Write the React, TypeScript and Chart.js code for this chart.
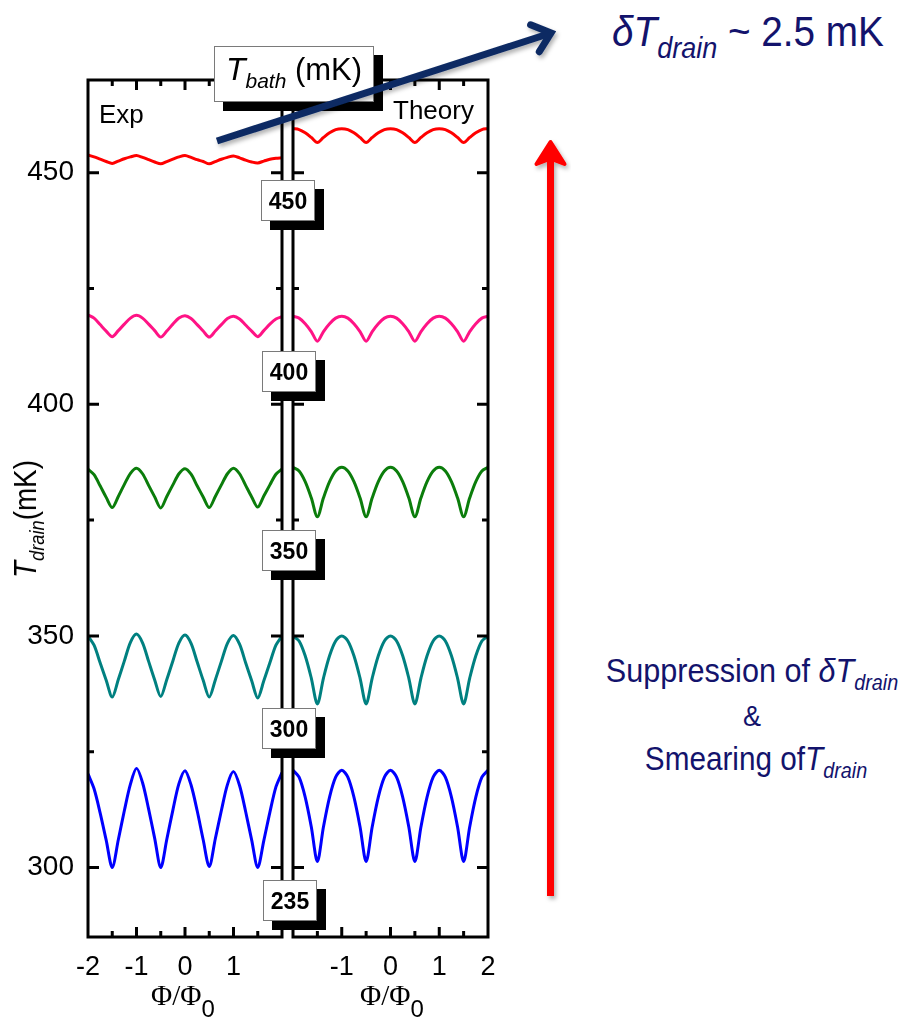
import React, { useEffect, useRef } from 'react';
import { Chart, registerables } from 'chart.js';

Chart.register(...registerables);

const SANS = "'Liberation Sans', Arial, Helvetica, sans-serif";
const SERIF = "'Liberation Serif', 'Times New Roman', Times, serif";
const NAVY_TEXT = '#13136c';
const NAVY_ARROW = '#0c2a63';

// Flux grid Φ/Φ0 shared by every trace
const PHI = [
  -2, -1.875, -1.75, -1.625, -1.5, -1.375, -1.25, -1.125,
  -1, -0.875, -0.75, -0.625, -0.5, -0.375, -0.25, -0.125,
  0, 0.125, 0.25, 0.375, 0.5, 0.625, 0.75, 0.875,
  1, 1.125, 1.25, 1.375, 1.5, 1.625, 1.75, 1.875, 2,
];

// Bath temperatures (mK), lowest first
const BATH_TEMPS = ['235', '300', '350', '400', '450'];
const SERIES_COLORS = ['#0000ff', '#008080', '#0b7d0b', '#ff1385', '#ff0000'];

// Measured drain temperature (mK)
const EXP_235 = [
  320.2, 317.0, 311.8, 305.9, 300.0, 306.0, 312.3, 318.0,
  321.4, 318.3, 312.6, 306.3, 300.0, 306.1, 312.4, 318.1,
  320.9, 317.8, 312.3, 306.0, 300.2, 306.2, 312.3, 317.9,
  320.7, 317.7, 312.1, 305.9, 300.0, 305.8, 311.9, 317.4, 320.5,
];
const EXP_300 = [
  350.0, 348.0, 344.2, 340.4, 336.8, 340.6, 344.6, 348.6,
  350.4, 348.5, 344.5, 340.5, 336.9, 340.6, 344.6, 348.5,
  350.2, 348.4, 344.4, 340.4, 336.8, 340.5, 344.5, 348.4,
  350.1, 348.2, 344.2, 340.3, 336.6, 340.3, 344.2, 348.0, 350.0,
];
const EXP_350 = [
  386.0, 384.8, 382.4, 379.9, 377.7, 380.1, 382.7, 385.1,
  386.2, 385.0, 382.5, 380.0, 377.6, 380.1, 382.6, 385.0,
  386.1, 384.9, 382.4, 380.0, 377.7, 380.1, 382.6, 385.0,
  386.2, 385.0, 382.5, 380.0, 377.8, 380.2, 382.6, 384.9, 386.0,
];
const EXP_400 = [
  419.3, 418.6, 417.2, 415.8, 414.6, 415.9, 417.3, 418.6,
  419.2, 418.6, 417.3, 415.9, 414.5, 415.8, 417.3, 418.6,
  419.1, 418.5, 417.2, 415.8, 414.5, 415.8, 417.2, 418.5,
  419.0, 418.4, 417.1, 415.8, 414.6, 415.9, 417.3, 418.4, 418.9,
];
const EXP_450 = [
  453.8, 453.4, 452.9, 452.4, 452.0, 452.5, 453.0, 453.4,
  453.7, 453.3, 452.8, 452.3, 451.9, 452.4, 452.9, 453.4,
  453.7, 453.3, 452.8, 452.4, 451.9, 452.4, 452.9, 453.3,
  453.6, 453.2, 452.7, 452.3, 452.1, 452.5, 452.9, 453.1, 453.2,
];

// Calculated drain temperature (mK)
const THEORY_235 = [
  321.0, 319.5, 315.2, 308.8, 301.3, 308.8, 315.2, 319.5,
  321.0, 319.5, 315.2, 308.8, 301.3, 308.8, 315.2, 319.5,
  321.0, 319.5, 315.2, 308.8, 301.3, 308.8, 315.2, 319.5,
  321.0, 319.5, 315.2, 308.8, 301.3, 308.8, 315.2, 319.5, 321.0,
];
const THEORY_300 = [
  350.0, 348.9, 345.7, 340.9, 335.3, 340.9, 345.7, 348.9,
  350.0, 348.9, 345.7, 340.9, 335.3, 340.9, 345.7, 348.9,
  350.0, 348.9, 345.7, 340.9, 335.3, 340.9, 345.7, 348.9,
  350.0, 348.9, 345.7, 340.9, 335.3, 340.9, 345.7, 348.9, 350.0,
];
const THEORY_350 = [
  386.4, 385.6, 383.3, 379.8, 375.7, 379.8, 383.3, 385.6,
  386.4, 385.6, 383.3, 379.8, 375.7, 379.8, 383.3, 385.6,
  386.4, 385.6, 383.3, 379.8, 375.7, 379.8, 383.3, 385.6,
  386.4, 385.6, 383.3, 379.8, 375.7, 379.8, 383.3, 385.6, 386.4,
];
const THEORY_400 = [
  419.0, 418.6, 417.4, 415.7, 413.6, 415.7, 417.4, 418.6,
  419.0, 418.6, 417.4, 415.7, 413.6, 415.7, 417.4, 418.6,
  419.0, 418.6, 417.4, 415.7, 413.6, 415.7, 417.4, 418.6,
  419.0, 418.6, 417.4, 415.7, 413.6, 415.7, 417.4, 418.6, 419.0,
];
const THEORY_450 = [
  459.5, 459.3, 458.6, 457.6, 456.5, 457.6, 458.6, 459.3,
  459.5, 459.3, 458.6, 457.6, 456.5, 457.6, 458.6, 459.3,
  459.5, 459.3, 458.6, 457.6, 456.5, 457.6, 458.6, 459.3,
  459.5, 459.3, 458.6, 457.6, 456.5, 457.6, 458.6, 459.3, 459.5,
];

const EXP_SERIES = [EXP_235, EXP_300, EXP_350, EXP_400, EXP_450];
const THEORY_SERIES = [THEORY_235, THEORY_300, THEORY_350, THEORY_400, THEORY_450];

const Y_MIN = 285;
const Y_MAX = 470;
const Y_TICKS = [300, 350, 400, 450];
const X_TICKS_EXP = [-2, -1, 0, 1];
const X_TICKS_THEORY = [-1, 0, 1, 2];

// Closed frame with inward tick marks on all four sides
const framePlugin = {
  id: 'panelFrame',
  afterDatasetsDraw(chart: any) {
    const { ctx, chartArea: a, scales } = chart;
    const xs = scales.x;
    const ys = scales.y;
    ctx.save();
    ctx.strokeStyle = '#000';
    ctx.lineWidth = 3;
    ctx.strokeRect(a.left, a.top, a.right - a.left, a.bottom - a.top);
    ctx.beginPath();
    for (let v = -1.5; v <= 1.5 + 1e-9; v += 0.5) {
      const px = xs.getPixelForValue(v);
      const len = Math.abs(v - Math.round(v)) < 1e-9 ? 10 : 6;
      ctx.moveTo(px, a.bottom);
      ctx.lineTo(px, a.bottom - len);
      ctx.moveTo(px, a.top);
      ctx.lineTo(px, a.top + len);
    }
    for (let v = 300; v <= 450; v += 25) {
      const py = ys.getPixelForValue(v);
      const len = v % 50 === 0 ? 11 : 6;
      ctx.moveTo(a.left, py);
      ctx.lineTo(a.left + len, py);
      ctx.moveTo(a.right, py);
      ctx.lineTo(a.right - len, py);
    }
    ctx.stroke();
    ctx.restore();
  },
};

type PanelProps = {
  left: number;
  width: number;
  axisWidth: number;
  padRight: number;
  series: number[][];
  xTicks: number[];
  showYLabels: boolean;
};

function Panel({ left, width, axisWidth, padRight, series, xTicks, showYLabels }: PanelProps) {
  const ref = useRef<HTMLCanvasElement>(null);
  useEffect(() => {
    if (!ref.current) return;
    const chart = new Chart(ref.current, {
      type: 'line',
      data: {
        datasets: series.map((vals, i) => ({
          label: BATH_TEMPS[i],
          data: PHI.map((p, k) => ({ x: p, y: vals[k] })),
          borderColor: SERIES_COLORS[i],
          borderWidth: 3,
          pointRadius: 0,
          tension: 0.3,
          fill: false,
        })),
      },
      options: {
        responsive: false,
        animation: false,
        devicePixelRatio: 1,
        events: [],
        layout: { padding: { top: 80, right: padRight, left: 0, bottom: 0 } },
        plugins: { legend: { display: false }, tooltip: { enabled: false } },
        scales: {
          x: {
            type: 'linear',
            min: -2,
            max: 2,
            position: 'bottom',
            grid: { display: false, drawTicks: false },
            border: { display: false },
            afterBuildTicks: (s: any) => {
              s.ticks = xTicks.map((v) => ({ value: v }));
            },
            afterFit: (s: any) => {
              s.height = 83;
              s.paddingLeft = 0;
              s.paddingRight = 0;
            },
            ticks: {
              autoSkip: false,
              maxRotation: 0,
              padding: 14,
              color: '#000',
              font: { family: SANS, size: 27 },
              callback: (v: any) => String(v),
            },
          },
          y: {
            type: 'linear',
            min: Y_MIN,
            max: Y_MAX,
            grid: { display: false, drawTicks: false },
            border: { display: false },
            afterBuildTicks: (s: any) => {
              s.ticks = Y_TICKS.map((v) => ({ value: v }));
            },
            afterFit: (s: any) => {
              s.width = axisWidth;
            },
            ticks: {
              display: showYLabels,
              padding: 14,
              color: '#000',
              font: { family: SANS, size: 28 },
              callback: (v: any) => String(v),
            },
          },
        },
      },
      plugins: [framePlugin],
    } as any);
    return () => chart.destroy();
  }, []);
  return (
    <canvas
      ref={ref}
      width={width}
      height={1020}
      style={{ position: 'absolute', left, top: 0, width, height: 1020 }}
    />
  );
}

// Baseline-anchored text: with line-height 1 the baseline sits 0.8465 em below the top
const topFor = (baseline: number, size: number) => baseline - 0.8465 * size;

const TAG_LAYOUT = [
  { left: 263, top: 880 },
  { left: 262, top: 708 },
  { left: 262, top: 530 },
  { left: 262, top: 351 },
  { left: 261, top: 180 },
];

function BathTag({ label, left, top }: { label: string; left: number; top: number }) {
  return (
    <div
      style={{
        position: 'absolute',
        left,
        top,
        width: 54,
        height: 41,
        boxSizing: 'border-box',
        background: '#fff',
        border: '1px solid #7a7a7a',
        boxShadow: '9px 9px 0 #000',
        fontFamily: SANS,
        fontWeight: 'bold',
        fontSize: 23,
        lineHeight: '41px',
        textAlign: 'center',
        color: '#000',
      }}
    >
      {label}
    </div>
  );
}

function Sub({ size, drop, italic = true, family = SANS, children }: any) {
  return (
    <span
      style={{
        fontSize: size,
        fontStyle: italic ? 'italic' : 'normal',
        fontFamily: family,
        position: 'relative',
        top: drop,
      }}
    >
      {children}
    </span>
  );
}

export default function App() {
  return (
    <div
      style={{
        position: 'absolute',
        left: 0,
        top: 0,
        width: 905,
        height: 1020,
        background: '#fff',
        overflow: 'hidden',
        fontFamily: SANS,
        color: '#000',
      }}
    >
      <Panel
        left={0}
        width={290}
        axisWidth={88}
        padRight={8}
        series={EXP_SERIES}
        xTicks={X_TICKS_EXP}
        showYLabels={true}
      />
      <Panel
        left={290}
        width={505 - 290}
        axisWidth={3}
        padRight={17}
        series={THEORY_SERIES}
        xTicks={X_TICKS_THEORY}
        showYLabels={false}
      />

      {/* panel captions */}
      <div style={{ position: 'absolute', left: 99, top: topFor(123, 26), fontSize: 26, lineHeight: 1 }}>Exp</div>
      <div style={{ position: 'absolute', left: 393, top: topFor(119, 26), fontSize: 26, lineHeight: 1 }}>Theory</div>

      {/* y-axis title */}
      <div
        style={{
          position: 'absolute',
          left: 25,
          top: 519,
          fontSize: 32,
          lineHeight: 1,
          whiteSpace: 'nowrap',
          transform: 'translate(-50%, -50%) rotate(-90deg) scaleX(0.87)',
        }}
      >
        <i>T</i>
        <Sub size={21} drop={8}>drain</Sub>
        (mK)
      </div>

      {/* x-axis titles */}
      {[151, 360].map((x) => (
        <div
          key={x}
          style={{
            position: 'absolute',
            left: x,
            top: 1005 - 0.8375 * 29,
            fontFamily: SERIF,
            fontSize: 29,
            lineHeight: 1,
            whiteSpace: 'nowrap',
          }}
        >
          Φ/Φ
          <Sub size={24} drop={12} italic={false}>0</Sub>
        </div>
      ))}

      {/* bath temperature tags along the divider */}
      {TAG_LAYOUT.map((pos, i) => (
        <BathTag key={BATH_TEMPS[i]} label={BATH_TEMPS[i]} left={pos.left} top={pos.top} />
      ))}

      {/* divider header */}
      <div
        style={{
          position: 'absolute',
          left: 214,
          top: 46,
          width: 160,
          height: 56,
          boxSizing: 'border-box',
          background: '#fff',
          border: '1px solid #7a7a7a',
          boxShadow: '9px 9px 0 #000',
        }}
      >
        <div
          style={{
            position: 'absolute',
            left: 0,
            right: 0,
            top: 33 - 0.8465 * 32,
            textAlign: 'center',
            fontSize: 32,
            lineHeight: 1,
            whiteSpace: 'nowrap',
          }}
        >
          <i>T</i>
          <Sub size={21} drop={8}>bath</Sub>
          <span style={{ fontSize: 31 }}> (mK)</span>
        </div>
      </div>

      {/* oscillation amplitude note */}
      <div
        style={{
          position: 'absolute',
          left: 612,
          top: topFor(46, 43),
          fontSize: 43,
          lineHeight: 1,
          color: NAVY_TEXT,
          whiteSpace: 'nowrap',
          transform: 'scaleX(0.9)',
          transformOrigin: 'left center',
        }}
      >
        <i>δT</i>
        <Sub size={30} drop={12}>drain</Sub>
        <span> ~ 2.5 mK</span>
      </div>

      {/* trend note */}
      <div
        style={{
          position: 'absolute',
          left: 752,
          top: topFor(682, 34),
          fontSize: 34,
          lineHeight: 1,
          color: NAVY_TEXT,
          whiteSpace: 'nowrap',
          transform: 'translateX(-50%) scaleX(0.9)',
        }}
      >
        Suppression of <i>δT</i>
        <Sub size={22} drop={8}>drain</Sub>
      </div>
      <div
        style={{
          position: 'absolute',
          left: 752,
          top: topFor(726, 30),
          fontSize: 30,
          lineHeight: 1,
          color: NAVY_TEXT,
          whiteSpace: 'nowrap',
          transform: 'translateX(-50%) scaleX(0.9)',
        }}
      >
        &amp;
      </div>
      <div
        style={{
          position: 'absolute',
          left: 756,
          top: topFor(770, 33),
          fontSize: 33,
          lineHeight: 1,
          color: NAVY_TEXT,
          whiteSpace: 'nowrap',
          transform: 'translateX(-50%) scaleX(0.9)',
        }}
      >
        Smearing of<i>T</i>
        <Sub size={22} drop={8}>drain</Sub>
      </div>

      {/* arrows */}
      <svg
        width={905}
        height={1020}
        style={{ position: 'absolute', left: 0, top: 0, pointerEvents: 'none' }}
      >
        <defs>
          <filter id="softShadow" x="-20%" y="-20%" width="140%" height="140%">
            <feDropShadow dx="2" dy="3" stdDeviation="2" floodColor="#000" floodOpacity="0.3" />
          </filter>
        </defs>
        <g filter="url(#softShadow)">
          <line x1={217} y1={141} x2={548} y2={34} stroke={NAVY_ARROW} strokeWidth={7} />
          <path
            d="M530.6,24.8 L551,33 L539.3,51.7"
            fill="none"
            stroke={NAVY_ARROW}
            strokeWidth={7}
            strokeLinecap="round"
            strokeLinejoin="miter"
          />
        </g>
        <g filter="url(#softShadow)">
          <line x1={550.5} y1={896} x2={550.5} y2={158} stroke="#ff0000" strokeWidth={7} />
          <path
            d="M550.5,142 L564.5,164 L554,160 L547,160 L536.5,164 Z"
            fill="#ff0000"
            stroke="#ff0000"
            strokeWidth={4}
            strokeLinejoin="round"
          />
        </g>
      </svg>
    </div>
  );
}
